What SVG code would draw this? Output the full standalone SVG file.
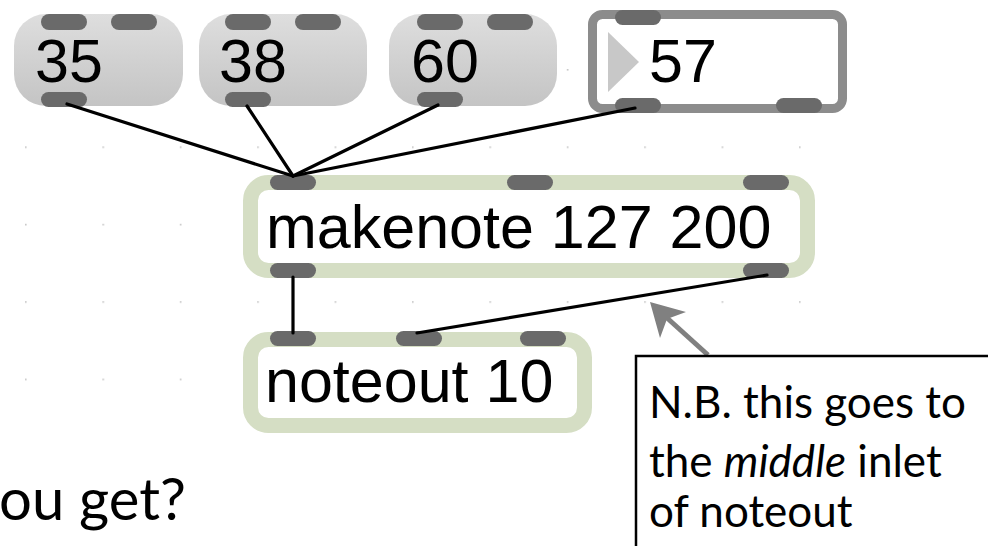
<svg xmlns="http://www.w3.org/2000/svg" width="988" height="546" viewBox="0 0 988 546">
<defs>
<linearGradient id="msgGrad" x1="0" y1="0" x2="0" y2="1">
<stop offset="0" stop-color="#dedede"/>
<stop offset="1" stop-color="#c4c4c4"/>
</linearGradient>
<pattern id="grid" x="25" y="69" width="77.4" height="77.4" patternUnits="userSpaceOnUse">
<rect x="0" y="0" width="1.6" height="1.6" fill="#c4c4c4"/>
</pattern>
</defs>
<style>
.port{fill:#6a6a6a}
.msg{fill:url(#msgGrad)}
.maxtxt{font-family:"Liberation Sans",Arial,sans-serif;font-size:61px;fill:#000}
.obj{fill:#fff;stroke:#d5dec4;stroke-width:15}
.cord{stroke:#000;stroke-width:3.2;fill:none;stroke-linecap:round}
.note{font-family:Lato,"Open Sans",sans-serif;font-size:44px;fill:#000}
</style>
<rect width="988" height="546" fill="#fff"/>
<rect x="0" y="60" width="820" height="330" fill="url(#grid)"/>

<g id="msg35">
<rect class="msg" x="14" y="14" width="169" height="92" rx="32"/>
<rect class="port" x="41" y="14" width="46" height="16" rx="8"/>
<rect class="port" x="111" y="14" width="46" height="16" rx="8"/>
<rect class="port" x="41" y="92" width="46" height="15" rx="7.5"/>
<text class="maxtxt" x="35" y="82">35</text>
</g>
<g id="msg38">
<rect class="msg" x="199" y="14" width="168" height="92" rx="32"/>
<rect class="port" x="225" y="14" width="46" height="16" rx="8"/>
<rect class="port" x="295" y="14" width="46" height="16" rx="8"/>
<rect class="port" x="225" y="92" width="46" height="15" rx="7.5"/>
<text class="maxtxt" x="219" y="82">38</text>
</g>
<g id="msg60">
<rect class="msg" x="389" y="14" width="168" height="92" rx="32"/>
<rect class="port" x="417" y="14" width="46" height="16" rx="8"/>
<rect class="port" x="487" y="14" width="46" height="16" rx="8"/>
<rect class="port" x="417" y="92" width="46" height="15" rx="7.5"/>
<text class="maxtxt" x="411" y="82">60</text>
</g>
<g id="num57">
<rect x="592.5" y="14.5" width="250" height="94" rx="10" fill="#fff" stroke="#8c8c8c" stroke-width="9"/>
<polygon points="608,32 639,62 608,92" fill="#c8c8c8"/>
<rect class="port" x="615" y="10" width="46" height="15" rx="7.5"/>
<rect class="port" x="615" y="98" width="46" height="15" rx="7.5"/>
<rect class="port" x="776" y="98" width="46" height="15" rx="7.5"/>
<text class="maxtxt" x="649" y="82">57</text>
</g>
<g id="makenote">
<rect class="obj" x="250.5" y="182.5" width="557" height="88" rx="18"/>
<rect class="port" x="270" y="175" width="46" height="15" rx="7.5"/>
<rect class="port" x="507" y="175" width="46" height="15" rx="7.5"/>
<rect class="port" x="743" y="175" width="46" height="15" rx="7.5"/>
<rect class="port" x="270" y="263" width="46" height="15" rx="7.5"/>
<rect class="port" x="743" y="263" width="46" height="15" rx="7.5"/>
<text class="maxtxt" x="266" y="248">makenote 127 200</text>
</g>
<g id="noteout">
<rect class="obj" x="250.5" y="339.5" width="334" height="86" rx="18"/>
<rect class="port" x="270" y="331" width="46" height="15" rx="7.5"/>
<rect class="port" x="396" y="331" width="46" height="15" rx="7.5"/>
<rect class="port" x="520" y="331" width="46" height="15" rx="7.5"/>
<text class="maxtxt" x="265" y="402">noteout 10</text>
</g>

<g id="connectors">
<line class="cord" x1="67" y1="104" x2="293" y2="176"/>
<line class="cord" x1="247" y1="106" x2="293" y2="176"/>
<line class="cord" x1="438" y1="105" x2="293" y2="176"/>
<line class="cord" x1="635" y1="108" x2="293" y2="176"/>
<line class="cord" x1="293" y1="277" x2="293" y2="333"/>
<line class="cord" x1="767" y1="275" x2="417" y2="333"/>
</g>

<g id="annotation">
<line x1="666" y1="317" x2="708" y2="355" stroke="#808080" stroke-width="5"/>
<polygon points="650,302 686,312 667,319 660,338" fill="#808080"/>
<rect x="636" y="356" width="400" height="250" fill="#fff" stroke="#000" stroke-width="2.5"/>
<text class="note" x="649" y="418">N.B. this goes to</text>
<text class="note" x="649" y="477">the <tspan font-style="italic">middle</tspan> inlet</text>
<text class="note" x="649" y="527">of noteout</text>
</g>

<g id="caption">
<text font-family="Lato,'Open Sans',sans-serif" font-size="58" fill="#000" x="-1" y="520">ou get?</text>
</g>
</svg>
